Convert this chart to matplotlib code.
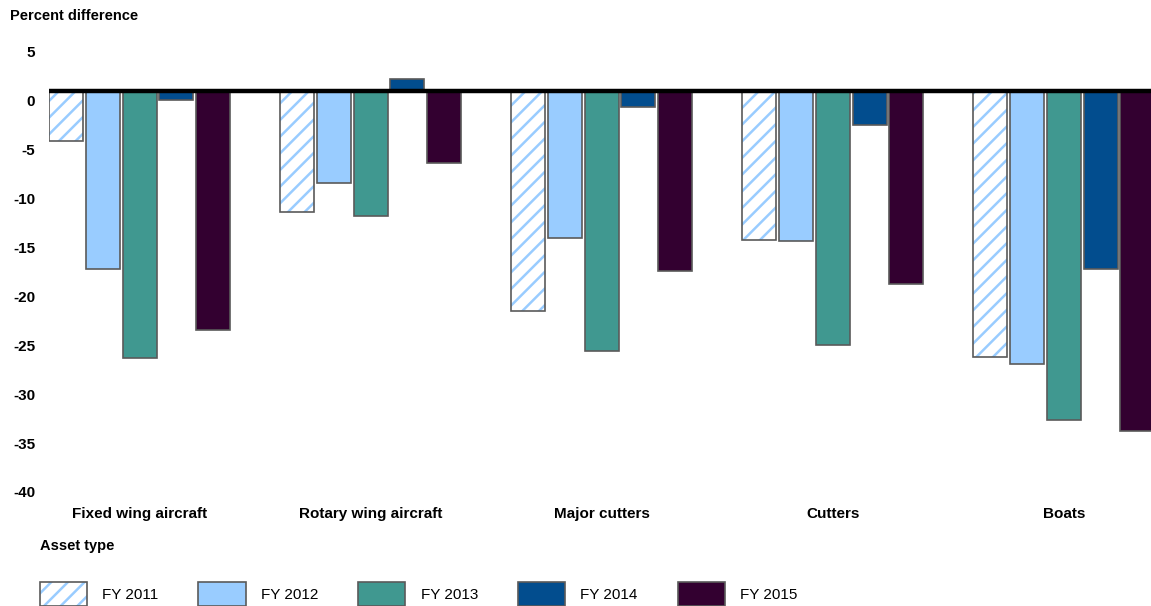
import matplotlib
matplotlib.use("Agg")
import matplotlib.pyplot as plt
import matplotlib.transforms as mtransforms
from matplotlib.patches import Patch
import numpy as np

plt.rcParams['font.family'] = ['Liberation Sans', 'DejaVu Sans']
plt.rcParams['hatch.linewidth'] = 1.8

# ------- Данные --------- #
assets = ["Fixed wing aircraft", "Rotary wing aircraft", "Major cutters", "Cutters", "Boats"]
years = ["FY 2011", "FY 2012", "FY 2013", "FY 2014", "FY 2015"]
fy2011 = [-5.1, -12.4, -22.5, -15.3, -27.2]
fy2012 = [-18.2, -9.4, -15.0, -15.4, -27.9]
fy2013 = [-27.3, -12.8, -26.6, -26.0, -33.7]
fy2014 = [-0.9, 1.2, -1.6, -3.5, -18.2]
fy2015 = [-24.5, -7.4, -18.4, -19.7, -34.8]
series = [fy2011, fy2012, fy2013, fy2014, fy2015]
yticks = [5, 0, -5, -10, -15, -20, -25, -30, -35, -40]

colors = ["white", "#99ccff", "#409890", "#024d8e", "#330030"]
edge = "#5a5a5a"
hatch_color = "#99ccff"

# ------- Настройка графика --------- #
fig = plt.figure(figsize=(11.51, 6.06), dpi=100)
W, H = 1151, 606
ax = fig.add_axes([49 / W, 1 - 482 / H, (W - 49) / W, (482 - 42) / H])

x = np.arange(len(assets))
width = 0.147
step = 0.159

for i, vals in enumerate(series):
    pos = x + (i - 2) * step
    if i == 0:
        ax.bar(pos, vals, width, color="white", edgecolor=hatch_color,
               hatch="//", linewidth=0, zorder=2)
        ax.bar(pos, vals, width, fill=False, edgecolor=edge, linewidth=1.2, zorder=3)
    else:
        ax.bar(pos, vals, width, color=colors[i], edgecolor=edge,
               linewidth=1.2, zorder=3)

ax.axhline(0, color="black", linewidth=3.2, zorder=5)

ax.set_xlim(-0.392, 4.377)
ax.set_ylim(-40, 5)
for s in ax.spines.values():
    s.set_visible(False)

ax.set_yticks(yticks)
ax.set_yticklabels([str(v) for v in yticks], fontsize=11, fontweight="bold")
ax.tick_params(axis="y", length=0, pad=10)
offset = mtransforms.ScaledTranslation(0, -0.10, fig.dpi_scale_trans)
for lab in ax.get_yticklabels():
    lab.set_transform(lab.get_transform() + offset)

ax.set_xticks(x)
ax.set_xticklabels(assets, fontsize=11, fontweight="bold")
ax.tick_params(axis="x", length=0, pad=18)

# ------- Подписи ---------- #
fig.text(10 / W, 1 - 16 / H, "Percent difference", fontsize=10.5,
         fontweight="bold", ha="left", va="center")
fig.text(40 / W, 1 - 546 / H, "Asset type", fontsize=10.5,
         fontweight="bold", ha="left", va="center")

# ------- Легенда ---------- #
handles = []
for i, yr in enumerate(years):
    if i == 0:
        handles.append((Patch(facecolor="white", edgecolor=hatch_color, hatch="//", linewidth=0),
                        Patch(fill=False, edgecolor=edge, linewidth=1.2)))
    else:
        handles.append(Patch(facecolor=colors[i], edgecolor=edge, linewidth=1.2))
leg = fig.legend(handles=handles, labels=years, loc="center left",
                 bbox_to_anchor=(26 / W, 1 - 594 / H),
                 ncol=5, frameon=False, fontsize=11, handlelength=3.1,
                 handleheight=2.1, handletextpad=1.0, columnspacing=2.6)

fig.savefig("out.png", dpi=100)
